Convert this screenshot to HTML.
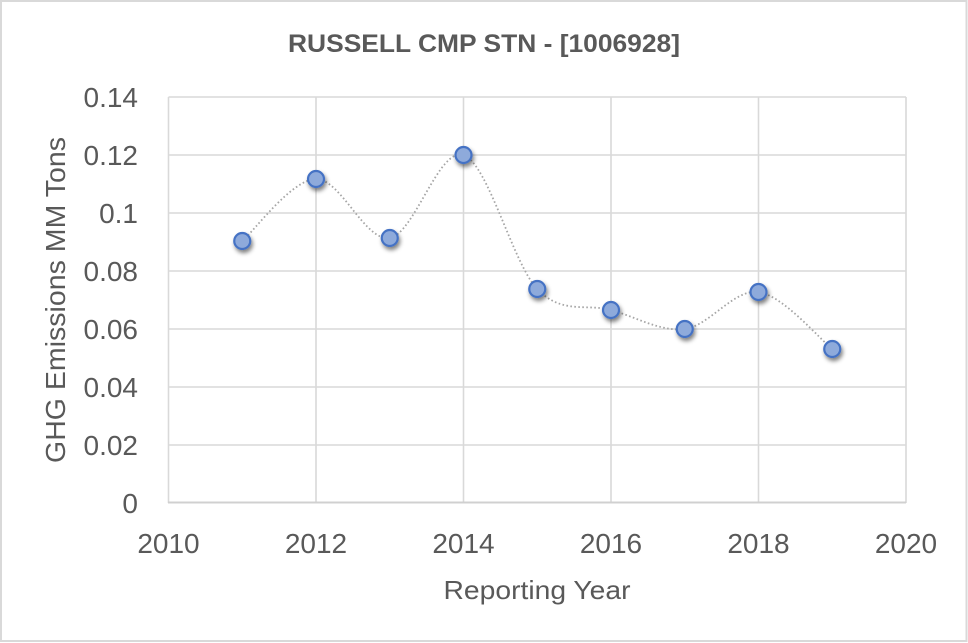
<!DOCTYPE html>
<html>
<head>
<meta charset="utf-8">
<style>
  html, body { margin: 0; padding: 0; background: #ffffff; }
  svg { display: block; }
  text { font-family: "Liberation Sans", Arial, sans-serif; fill: #595959; }
</style>
</head>
<body>
<svg width="968" height="643" viewBox="0 0 968 643" xmlns="http://www.w3.org/2000/svg">
  <defs>
    <filter id="sh" x="-50%" y="-50%" width="200%" height="200%">
      <feGaussianBlur in="SourceAlpha" stdDeviation="2.2"/>
      <feOffset dx="1.5" dy="3" result="b"/>
      <feComponentTransfer><feFuncA type="linear" slope="0.5"/></feComponentTransfer>
      <feMerge><feMergeNode/><feMergeNode in="SourceGraphic"/></feMerge>
    </filter>
  </defs>
  <rect x="0" y="0" width="968" height="643" fill="#ffffff"/>
  <rect x="1" y="1" width="965.5" height="640" fill="none" stroke="#d9d9d9" stroke-width="2"/>

  <!-- Title -->
  <text x="484" y="52" text-anchor="middle" font-size="25" font-weight="bold" textLength="392" lengthAdjust="spacingAndGlyphs">RUSSELL CMP STN - [1006928]</text>

  <!-- Grid -->
  <g stroke="#d9d9d9" stroke-width="1.6" fill="none">
    <line x1="168.5" y1="97" x2="906" y2="97"/>
    <line x1="168.5" y1="155" x2="906" y2="155"/>
    <line x1="168.5" y1="213" x2="906" y2="213"/>
    <line x1="168.5" y1="271" x2="906" y2="271"/>
    <line x1="168.5" y1="329" x2="906" y2="329"/>
    <line x1="168.5" y1="387" x2="906" y2="387"/>
    <line x1="168.5" y1="445" x2="906" y2="445"/>
    <line x1="168.5" y1="97" x2="168.5" y2="503"/>
    <line x1="316" y1="97" x2="316" y2="503"/>
    <line x1="463.5" y1="97" x2="463.5" y2="503"/>
    <line x1="611" y1="97" x2="611" y2="503"/>
    <line x1="758.5" y1="97" x2="758.5" y2="503"/>
    <line x1="906" y1="97" x2="906" y2="503"/>
  </g>
  <line x1="168" y1="502.5" x2="906" y2="502.5" stroke="#d0d0d0" stroke-width="2"/>

  <!-- Y tick labels -->
  <g font-size="28" text-anchor="end">
    <text x="138" y="107">0.14</text>
    <text x="138" y="165">0.12</text>
    <text x="138" y="223">0.1</text>
    <text x="138" y="281">0.08</text>
    <text x="138" y="339">0.06</text>
    <text x="138" y="397">0.04</text>
    <text x="138" y="455">0.02</text>
    <text x="138" y="513">0</text>
  </g>

  <!-- X tick labels -->
  <g font-size="28" text-anchor="middle">
    <text x="168.5" y="553">2010</text>
    <text x="316" y="553">2012</text>
    <text x="463.5" y="553">2014</text>
    <text x="611" y="553">2016</text>
    <text x="758.5" y="553">2018</text>
    <text x="906" y="553">2020</text>
  </g>

  <!-- Axis titles -->
  <text x="537" y="599" text-anchor="middle" font-size="26" textLength="187" lengthAdjust="spacingAndGlyphs">Reporting Year</text>
  <text transform="translate(65,300) rotate(-90)" text-anchor="middle" font-size="28" textLength="326" lengthAdjust="spacingAndGlyphs">GHG Emissions MM Tons</text>

  <!-- Smoothed dotted line -->
  <path d="M242.25,241 C254.54,230.67 291.42,179.5 316,179
           C340.58,178.5 365.17,242 389.75,238
           C414.33,234 438.92,146.5 463.5,155
           C488.08,163.5 512.67,263.17 537.25,289
           C561.83,314.83 586.42,303.33 611,310
           C635.58,316.67 660.17,332 684.75,329
           C709.33,326 733.92,288.67 758.5,292
           C783.08,295.33 819.96,339.5 832.25,349"
        fill="none" stroke="#a6a6a6" stroke-width="1.8" stroke-dasharray="1.6 2.4" stroke-linecap="butt"/>

  <!-- Markers -->
  <g fill="#8eaadb" stroke="#4472c4" stroke-width="2.2" filter="url(#sh)">
    <circle cx="242.25" cy="241" r="8"/>
    <circle cx="316" cy="179" r="8"/>
    <circle cx="389.75" cy="238" r="8"/>
    <circle cx="463.5" cy="155" r="8"/>
    <circle cx="537.25" cy="289" r="8"/>
    <circle cx="611" cy="310" r="8"/>
    <circle cx="684.75" cy="329" r="8"/>
    <circle cx="758.5" cy="292" r="8"/>
    <circle cx="832.25" cy="349" r="8"/>
  </g>
</svg>
</body>
</html>
